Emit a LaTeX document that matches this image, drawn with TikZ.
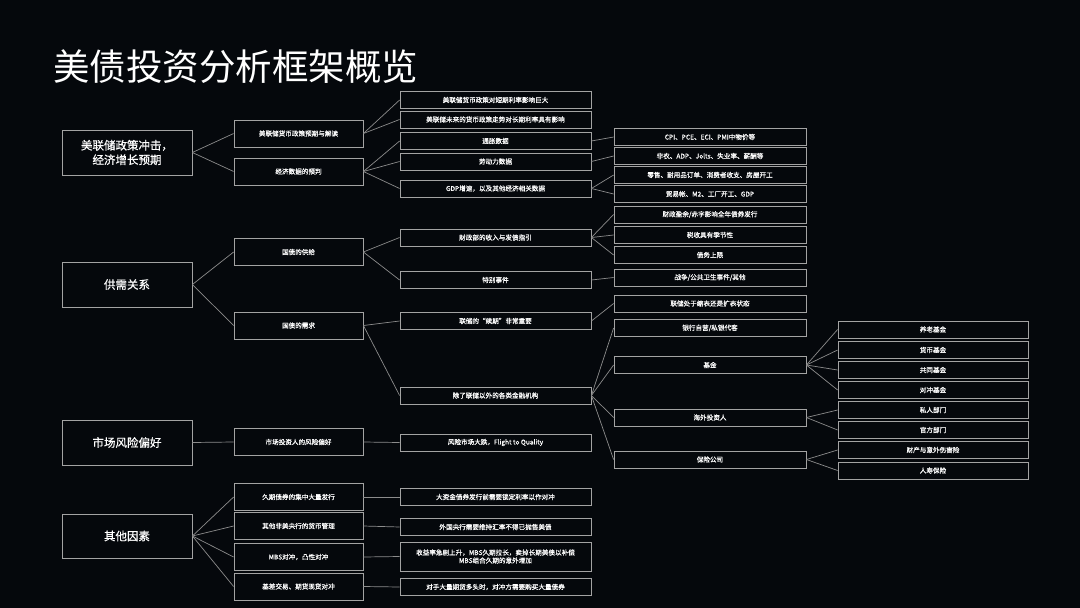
\documentclass[tikz,border=0pt]{standalone}
\usepackage{fontspec}
\setmainfont{Noto Sans CJK SC}
\newfontfamily\boldish[FakeBold=0.6]{Noto Sans CJK SC}
\definecolor{bgc}{HTML}{05080C}
\definecolor{boxc}{HTML}{A3A3A3}
\definecolor{linec}{HTML}{8C8C8C}
\tikzset{
 box/.style={draw=boxc, line width=0.8pt, fill=bgc, text=white, inner sep=0pt, align=center, font=\boldish\fontsize{6.6}{8}\selectfont},
 lone/.style={box, minimum width=130pt, minimum height=45pt, font=\boldish\fontsize{11.5}{14.5}\selectfont},
 ltwo/.style={box, minimum width=129pt, minimum height=27pt},
 lthree/.style={box, minimum width=191pt, minimum height=17pt},
 lfour/.style={box, minimum width=192pt, minimum height=17pt},
 lfive/.style={box, minimum width=190pt, minimum height=17pt},
 link/.style={draw=linec, line width=0.7pt}
}
\begin{document}
\begin{tikzpicture}[x=1pt,y=-1pt]
\path[use as bounding box, fill=bgc] (0,0) rectangle (1080,608);
\node[anchor=west, text=white, inner sep=0pt, font=\fontsize{36.5}{40}\selectfont] (title) at (53,67) {美债投资分析框架概览};
% level 1
\node[lone] (p1) at (127,152.5) {美联储政策冲击，\\经济增长预期};
\node[lone] (p2) at (127,284.5) {供需关系};
\node[lone] (p3) at (127,442.5) {市场风险偏好};
\node[lone, minimum height=44pt] (p4) at (127,536) {其他因素};
% level 2
\node[ltwo] (a1) at (298.5,133.5) {美联储货币政策预期与解读};
\node[ltwo] (a2) at (298.5,171.5) {经济数据的预判};
\node[ltwo] (a3) at (298.5,252) {国债的供给};
\node[ltwo] (a4) at (298.5,325.5) {国债的需求};
\node[ltwo] (a5) at (298.5,442) {市场投资人的风险偏好};
\node[ltwo] (a6) at (298.5,497) {久期债券的集中大量发行};
\node[ltwo] (a7) at (298.5,526) {其他非美央行的货币管理};
\node[ltwo] (a8) at (298.5,557) {MBS对冲，凸性对冲};
\node[ltwo] (a9) at (298.5,586.5) {基差交易、期货现货对冲};
% level 3
\node[lthree] (b1) at (495.5,100) {美联储货币政策对短期利率影响巨大};
\node[lthree] (b2) at (495.5,119.5) {美联储未来的货币政策走势对长期利率具有影响};
\node[lthree] (b3) at (495.5,141) {通胀数据};
\node[lthree] (b4) at (495.5,161.5) {劳动力数据};
\node[lthree] (b5) at (495.5,188.5) {GDP增速，以及其他经济相关数据};
\node[lthree] (b6) at (495.5,237.5) {财政部的收入与发债指引};
\node[lthree] (b7) at (495.5,280) {特别事件};
\node[lthree] (b8) at (495.5,321) {联储的“续期”非常重要};
\node[lthree] (b9) at (495.5,395.5) {除了联储以外的各类金融机构};
\node[lthree] (b10) at (495.5,442.5) {风险市场大跌，Flight to Quality};
\node[lthree] (b11) at (495.5,497) {大资金债券发行前需要锁定利率以作对冲};
\node[lthree] (b12) at (495.5,527) {外国央行需要维持汇率不得已抛售美债};
\node[lthree, minimum height=29pt] (b13) at (495.5,556.5) {收益率急剧上升，MBS久期拉长，卖掉长期美债以补偿\\MBS组合久期的意外增加};
\node[lthree] (b14) at (495.5,587) {对手大量期货多头时，对冲方需要购买大量债券};
% level 4
\node[lfour] (c1) at (710,137) {CPI、PCE、ECI、PMI中物价等};
\node[lfour] (c2) at (710,156) {非农、ADP、Jolts、失业率、薪酬等};
\node[lfour] (c3) at (710,175) {零售、耐用品订单、消费者收支、房屋开工};
\node[lfour] (c4) at (710,194) {贸易帐、M2、工厂开工、GDP};
\node[lfour] (c5) at (710,214.5) {财政盈余/赤字影响全年债券发行};
\node[lfour] (c6) at (710,235) {税收具有季节性};
\node[lfour] (c7) at (710,255) {债务上限};
\node[lfour] (c8) at (710,277.5) {战争/公共卫生事件/其他};
\node[lfour] (c9) at (710,303.5) {联储处于缩表还是扩表状态};
\node[lfour] (c10) at (710,328) {银行自营/私银代客};
\node[lfour] (c11) at (710,365) {基金};
\node[lfour] (c12) at (710,417.5) {海外投资人};
\node[lfour] (c13) at (710,459.5) {保险公司};
% level 5
\node[lfive] (d1) at (933,329.5) {养老基金};
\node[lfive] (d2) at (933,350) {货币基金};
\node[lfive] (d3) at (933,370) {共同基金};
\node[lfive] (d4) at (933,390) {对冲基金};
\node[lfive] (d5) at (933,410) {私人部门};
\node[lfive] (d6) at (933,430) {官方部门};
\node[lfive] (d7) at (933,450) {财产与意外伤害险};
\node[lfive] (d8) at (933,470.5) {人寿保险};
% connectors
\foreach \s/\t in {p1/a1,p1/a2,a1/b1,a1/b2,a2/b3,a2/b4,a2/b5,b3/c1,b4/c2,b5/c3,b5/c4,
 p2/a3,p2/a4,a3/b6,a3/b7,b6/c5,b6/c6,b6/c7,b7/c8,a4/b8,a4/b9,b8/c9,
 b9/c10,b9/c11,b9/c12,b9/c13,c11/d1,c11/d2,c11/d3,c11/d4,c12/d5,c12/d6,c13/d7,c13/d8,
 p3/a5,a5/b10,p4/a6,p4/a7,p4/a8,p4/a9,a6/b11,a7/b12,a8/b13,a9/b14}
 \draw[link] (\s.east) -- (\t.west);
\end{tikzpicture}
\end{document}
